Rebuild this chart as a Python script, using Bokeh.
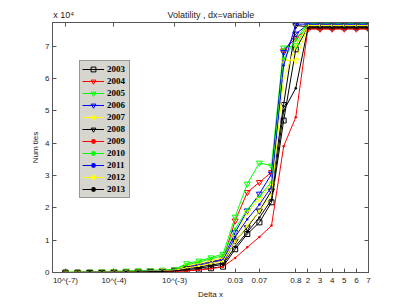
from bokeh.plotting import figure
from bokeh.models import Range1d, FixedTicker, LinearAxis
from bokeh.embed import file_html
from bokeh.resources import INLINE

# ---- data (x is the position index of each Delta x value) ----
x_index = list(range(26))
x_tick_pos = [0, 4, 9, 14, 16, 19, 20, 21, 22, 23, 24, 25]
x_tick_labels = ["10^(-7)", "10^(-4)", "10^(-3)", "0.03", "0.07", "0.8",
                 "2", "3", "4", "5", "6", "7"]
y_tick_pos = [0, 10000, 20000, 30000, 40000, 50000, 60000, 70000]
y_tick_labels = ["0", "1", "2", "3", "4", "5", "6", "7"]
title_text = "Volatility , dx=variable"
y_multiplier = "x 10⁴"

years = ["2003", "2004", "2005", "2006", "2007", "2008",
         "2009", "2010", "2011", "2012", "2013"]

v2003 = [0, 0, 0, 0, 50, 100, 150, 200, 250, 400, 600, 900, 1300, 1800, 7200, 11900,
         15500, 21700, 47000, 69000, 75800, 75800, 75800, 75800, 75800, 75800]
v2004 = [0, 0, 50, 100, 150, 200, 300, 400, 500, 800, 1600, 2200, 3000, 4000, 16000, 24800,
         27900, 31000, 68600, 72500, 75350, 75350, 75350, 75350, 75350, 75350]
v2005 = [100, 150, 200, 300, 400, 500, 600, 700, 800, 1000, 2800, 3600, 4600, 5700, 17200, 27400,
         33900, 33000, 69500, 70200, 77000, 77000, 77000, 77000, 77000, 77000]
v2006 = [0, 50, 100, 150, 200, 300, 400, 500, 600, 800, 1800, 2600, 3400, 4200, 12400, 19100,
         24300, 30500, 68100, 73800, 76600, 76600, 76600, 76600, 76600, 76600]
v2007 = [50, 100, 150, 200, 250, 300, 400, 500, 600, 800, 2000, 2800, 3600, 4500, 10800, 18600,
         22700, 27400, 65500, 65500, 76200, 76200, 76200, 76200, 76200, 76200]
v2008 = [0, 0, 50, 100, 150, 200, 250, 300, 400, 600, 1200, 1700, 2300, 2900, 9800, 13900,
         19100, 25300, 52000, 76400, 76000, 76000, 76000, 76000, 76000, 76000]
v2009 = [0, 0, 0, 0, 0, 50, 100, 150, 200, 300, 500, 800, 1200, 1800, 4500, 7800,
         11000, 14500, 39000, 48000, 75300, 75300, 75300, 75300, 75300, 75300]
v2010 = [50, 100, 150, 200, 250, 350, 450, 550, 700, 900, 2400, 3200, 4200, 5200, 13500, 19500,
         23500, 28000, 66000, 72000, 77200, 77200, 77200, 77200, 77200, 77200]
v2011 = [0, 50, 100, 150, 200, 250, 350, 450, 550, 700, 1500, 2200, 3000, 3800, 11000, 16500,
         21000, 26500, 64000, 76800, 76800, 76800, 76800, 76800, 76800, 76800]
v2012 = [50, 50, 100, 150, 200, 250, 300, 400, 500, 700, 1400, 2000, 2800, 3500, 9500, 14500,
         19000, 24000, 60000, 70000, 76400, 76400, 76400, 76400, 76400, 76400]
v2013 = [0, 0, 50, 50, 100, 150, 200, 250, 350, 500, 900, 1300, 1900, 2500, 8000, 12500,
         17000, 22500, 50000, 57000, 75600, 75600, 75600, 75600, 75600, 75600]

series = [v2003, v2004, v2005, v2006, v2007, v2008, v2009, v2010, v2011, v2012, v2013]
colors = ["#000000", "#ff0000", "#00ff00", "#0000ff", "#ffff00", "#000000",
          "#ff0000", "#00ff00", "#0000ff", "#ffff00", "#000000"]
markers = ["square", "inverted_triangle", "inverted_triangle", "inverted_triangle",
           "inverted_triangle", "inverted_triangle", "dot", "dot", "dot", "dot", "dot"]

Y_MAX = 77300
X_MIN, X_MAX = -1.07, 25

p = figure(width=407, height=306, output_backend="svg", toolbar_location=None,
           x_range=Range1d(X_MIN, X_MAX), y_range=Range1d(0, Y_MAX),
           min_border_left=52, min_border_right=39, min_border_top=22, min_border_bottom=34)
p.background_fill_color = "white"
p.border_fill_color = "white"
p.outline_line_color = "#555555"
p.xgrid.visible = False
p.ygrid.visible = False

for yr, vals, col, mk in zip(years, series, colors, markers):
    p.line(x_index, vals, line_color=col, line_width=1, legend_label=yr)
    if mk == "dot":
        p.scatter(x_index, vals, marker="circle", size=2.5, fill_color=col,
                  line_color=None, legend_label=yr)
    elif mk == "square":
        p.scatter(x_index, vals, marker="square", size=5, fill_color=None,
                  line_color=col, line_width=1, legend_label=yr)
    else:
        p.scatter(x_index, vals, marker=mk, size=6, fill_color=None,
                  line_color=col, line_width=1, legend_label=yr)

axis_col = "#555555"
label_col = "#222222"

xt = FixedTicker(ticks=x_tick_pos)
yt = FixedTicker(ticks=y_tick_pos)

xa = p.xaxis[0]
xa.ticker = xt
xa.major_label_overrides = {t: l for t, l in zip(x_tick_pos, x_tick_labels)}
xa.axis_label = "Delta x"

ya = p.yaxis[0]
ya.ticker = yt
ya.major_label_overrides = {t: l for t, l in zip(y_tick_pos, y_tick_labels)}
ya.axis_label = "Num ties"

for a in (xa, ya):
    a.axis_line_color = axis_col
    a.major_tick_line_color = axis_col
    a.major_tick_in = 4
    a.major_tick_out = 0
    a.minor_tick_line_color = None
    a.major_label_text_font = "Liberation Sans"
    a.major_label_text_font_size = "8px"
    a.major_label_text_color = label_col
    a.major_label_standoff = 3
    a.axis_label_text_font = "Liberation Sans"
    a.axis_label_text_font_size = "8px"
    a.axis_label_text_font_style = "normal"
    a.axis_label_text_color = label_col
    a.axis_label_standoff = 2

top = LinearAxis(ticker=xt)
right = LinearAxis(ticker=yt)
for a in (top, right):
    a.axis_line_color = axis_col
    a.major_tick_line_color = axis_col
    a.major_tick_in = 4
    a.major_tick_out = 0
    a.minor_tick_line_color = None
    a.major_label_text_font_size = "0px"
    a.major_label_text_color = None
    a.major_label_standoff = 0
p.add_layout(top, "above")
p.add_layout(right, "right")

# title and y multiplier, written as labels of a line-less axis above the frame
head_pos = [-0.15, 12]
head = LinearAxis(ticker=FixedTicker(ticks=head_pos))
head.major_label_overrides = {head_pos[0]: y_multiplier, head_pos[1]: title_text}
head.axis_line_color = None
head.major_tick_line_color = None
head.minor_tick_line_color = None
head.major_tick_in = 0
head.major_tick_out = 0
head.major_label_standoff = 3
head.major_label_text_font = "Liberation Sans"
head.major_label_text_font_size = "9px"
head.major_label_text_color = label_col
p.add_layout(head, "above")

lg = p.legend[0]
lg.location = (27, 74)
lg.background_fill_color = "#d6d6cf"
lg.background_fill_alpha = 1
lg.border_line_color = "#555555"
lg.border_line_width = 1
lg.label_text_font = "Liberation Serif"
lg.label_text_font_style = "bold"
lg.label_text_font_size = "9px"
lg.label_text_color = "#000000"
lg.glyph_width = 22
lg.glyph_height = 12
lg.label_height = 12
lg.label_standoff = 3
lg.spacing = 0
lg.padding = 2
lg.margin = 0

open("out.html", "w").write(file_html(p, INLINE))
